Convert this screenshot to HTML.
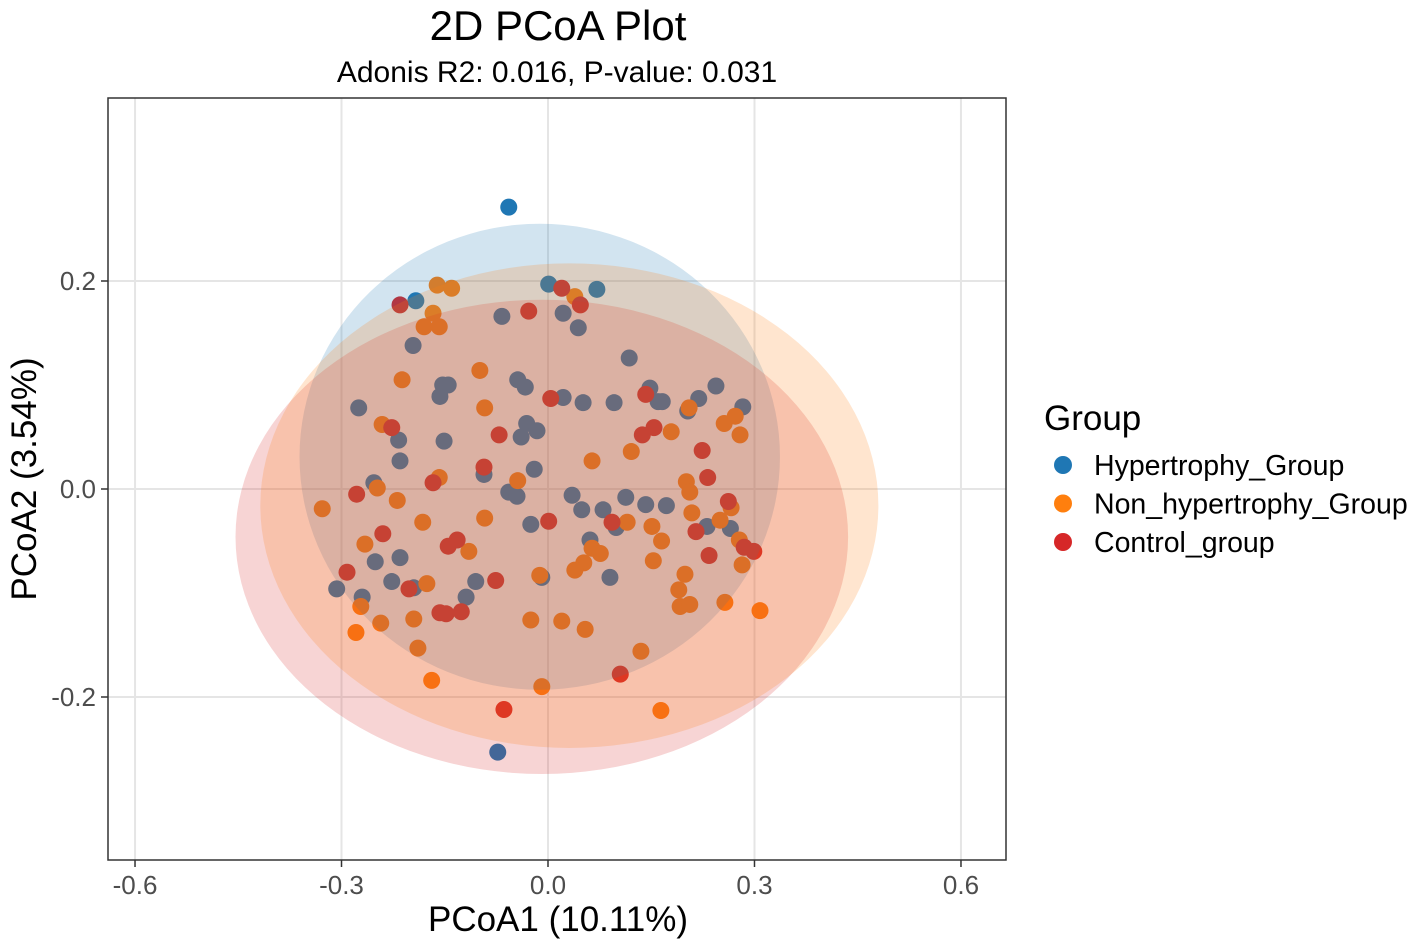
<!DOCTYPE html>
<html><head><meta charset="utf-8"><style>
body{margin:0;background:#fff;}
svg{display:block;font-family:"Liberation Sans",Arial,sans-serif;}
</style></head><body>
<svg id="chart" width="1417" height="947">
<text x="558" y="40" font-size="42" text-anchor="middle" fill="#000">2D PCoA Plot</text>
<text x="557" y="82" font-size="30" text-anchor="middle" fill="#000">Adonis R2: 0.016, P-value: 0.031</text>
<g id="grid"></g>
<g id="points"></g>
<g id="ellipses"></g>
<rect x="108" y="98" width="898" height="762" fill="none" stroke="#333" stroke-width="1.5"/>
<g id="axes"></g>
<text x="558" y="931" font-size="35" text-anchor="middle" fill="#000">PCoA1 (10.11%)</text>
<text transform="translate(36,479) rotate(-90)" font-size="35" text-anchor="middle" fill="#000">PCoA2 (3.54%)</text>
<text x="1044" y="430" font-size="35" fill="#000">Group</text>
<g id="legend"></g>
</svg>
<script>
const xTicks=[-0.6,-0.3,0.0,0.3,0.6];
const xTickLabels=["-0.6","-0.3","0.0","0.3","0.6"];
const yTicks=[0.2,0.0,-0.2];
const yTickLabels=["0.2","0.0","-0.2"];
const groups=["Hypertrophy_Group","Non_hypertrophy_Group","Control_group"];
const colors=["#1f77b4","#ff7f0e","#d62728"];
const hypX=[-0.057,-0.192,0.001,0.071,-0.073,-0.067,0.022,0.044,-0.196,0.118,-0.153,-0.145,-0.044,-0.033,-0.157,0.022,0.051,0.096,0.148,0.160,0.166,0.219,0.244,0.283,0.203,-0.275,-0.217,-0.151,-0.031,-0.039,-0.016,-0.215,-0.093,-0.020,-0.253,-0.057,-0.045,0.035,0.113,0.142,0.172,0.049,0.080,0.099,-0.025,0.061,0.231,0.265,-0.251,-0.215,-0.227,-0.105,-0.307,-0.195,-0.009,0.090,-0.270,-0.119];
const hypY=[0.271,0.181,0.197,0.192,-0.253,0.166,0.169,0.155,0.138,0.126,0.100,0.100,0.105,0.098,0.089,0.088,0.083,0.083,0.097,0.084,0.084,0.087,0.099,0.079,0.075,0.078,0.047,0.046,0.063,0.050,0.056,0.027,0.014,0.019,0.006,-0.003,-0.007,-0.006,-0.008,-0.015,-0.016,-0.020,-0.020,-0.037,-0.034,-0.049,-0.036,-0.038,-0.070,-0.066,-0.089,-0.089,-0.096,-0.095,-0.085,-0.085,-0.104,-0.104];
const nonX=[-0.161,-0.140,0.039,-0.167,-0.180,-0.158,-0.212,-0.099,-0.092,0.205,0.272,0.256,0.279,-0.241,0.179,0.121,0.064,-0.158,-0.044,0.201,-0.248,-0.328,-0.219,0.206,0.266,-0.092,0.115,0.151,0.209,0.250,-0.182,0.165,-0.266,0.064,0.076,0.278,-0.115,0.153,0.052,0.039,0.282,-0.012,0.199,-0.176,0.190,-0.272,0.192,0.206,0.257,0.308,-0.195,-0.243,-0.025,0.020,0.054,-0.279,-0.189,0.135,-0.169,-0.009,0.164];
const nonY=[0.196,0.193,0.185,0.169,0.156,0.156,0.105,0.114,0.078,0.078,0.070,0.063,0.052,0.062,0.055,0.036,0.027,0.011,0.008,0.007,0.001,-0.019,-0.011,-0.003,-0.018,-0.028,-0.032,-0.036,-0.023,-0.030,-0.032,-0.050,-0.053,-0.057,-0.062,-0.049,-0.060,-0.069,-0.071,-0.078,-0.073,-0.083,-0.082,-0.091,-0.097,-0.113,-0.113,-0.111,-0.109,-0.117,-0.125,-0.129,-0.126,-0.127,-0.135,-0.138,-0.153,-0.156,-0.184,-0.190,-0.213];
const ctlX=[-0.215,0.020,0.047,-0.028,0.004,0.142,-0.227,0.154,0.137,-0.071,-0.093,0.224,0.232,-0.167,-0.278,0.262,0.001,0.093,-0.240,0.215,-0.132,-0.145,0.285,0.299,0.234,-0.292,-0.076,-0.202,-0.157,-0.148,-0.126,0.105,-0.064];
const ctlY=[0.177,0.193,0.177,0.171,0.087,0.091,0.059,0.059,0.052,0.052,0.021,0.037,0.011,0.006,-0.005,-0.012,-0.031,-0.032,-0.043,-0.041,-0.049,-0.055,-0.056,-0.060,-0.064,-0.080,-0.088,-0.096,-0.119,-0.120,-0.118,-0.178,-0.212];
// ellipse params: centerX, centerY, radiusX, radiusY (data units)
const ellCX=[-0.012,0.031,-0.009];
const ellCY=[0.031,-0.016,-0.046];
const ellRX=[0.349,0.449,0.445];
const ellRY=[0.224,0.233,0.228];

const NS="http://www.w3.org/2000/svg";
const X=v=>548+v*688.3;
const Y=v=>489-v*1040;
function mk(tag,attrs,parent){const e=document.createElementNS(NS,tag);for(const k in attrs)e.setAttribute(k,attrs[k]);parent.appendChild(e);return e;}
const grid=document.getElementById('grid'),axes=document.getElementById('axes');
mk('rect',{x:108,y:98,width:898,height:762,fill:'#fff'},grid);
xTicks.forEach((t,i)=>{
 const l=mk('line',{x1:X(t),x2:X(t),y1:98,y2:860,stroke:'#e5e5e5','stroke-width':2},grid);
 
 
 mk('line',{x1:X(t),x2:X(t),y1:860,y2:867,stroke:'#333','stroke-width':1.5},axes);
 const tx=mk('text',{x:X(t),y:894,'font-size':26,'text-anchor':'middle',fill:'#4d4d4d'},axes);
 tx.textContent=xTickLabels[i];
 
 
});
yTicks.forEach((t,i)=>{
 const l=mk('line',{x1:108,x2:1006,y1:Y(t),y2:Y(t),stroke:'#e5e5e5','stroke-width':2},grid);
 
 
 mk('line',{x1:101,x2:108,y1:Y(t),y2:Y(t),stroke:'#333','stroke-width':1.5},axes);
 const tx=mk('text',{x:96,y:Y(t)+9,'font-size':26,'text-anchor':'end',fill:'#4d4d4d'},axes);
 tx.textContent=yTickLabels[i];
 
 
});
const pts=document.getElementById('points');
[[hypX,hypY],[nonX,nonY],[ctlX,ctlY]].forEach((s,g)=>{
 s[0].forEach((x,i)=>{
  const c=mk('circle',{cx:X(x),cy:Y(s[1][i]),r:8.5,fill:colors[g]},pts);
  
  
 });
});
const ells=document.getElementById('ellipses');
[0,2,1].forEach(g=>{
 const e=mk('ellipse',{cx:X(ellCX[g]),cy:Y(ellCY[g]),rx:ellRX[g]*688.3,ry:ellRY[g]*1040,fill:colors[g],'fill-opacity':0.2},ells);
 
 
});
const leg=document.getElementById('legend');
groups.forEach((g,i)=>{
 const y=465+i*38.5;
 const c=mk('circle',{cx:1063,cy:y,r:9,fill:colors[i]},leg);
 
 
 const t=mk('text',{x:1094,y:y+10,'font-size':28.5,fill:'#000'},leg);
 t.textContent=g;
 
 
});
</script>
</body></html>
